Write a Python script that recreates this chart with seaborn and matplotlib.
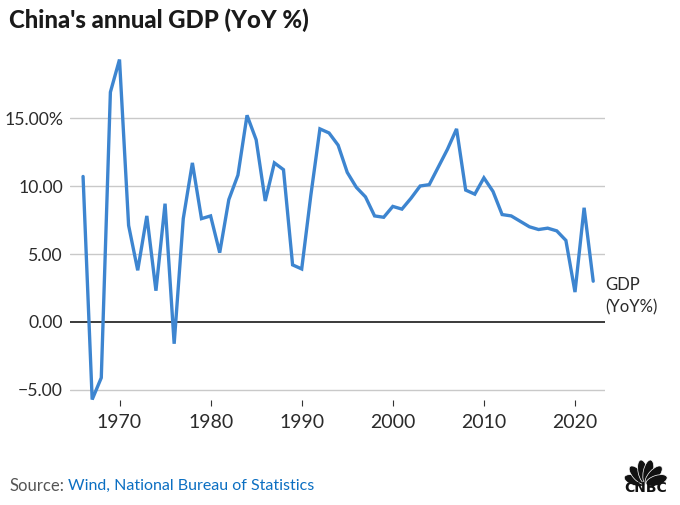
import numpy as np
import pandas as pd
import matplotlib
matplotlib.use("Agg")
import matplotlib.pyplot as plt
from matplotlib.patches import Ellipse
from matplotlib.transforms import Affine2D
import seaborn as sns

years = list(range(1966, 2023))
gdp = [10.7, -5.7, -4.1, 16.9, 19.3, 7.1, 3.8, 7.8, 2.3, 8.7, -1.6, 7.6, 11.7, 7.6, 7.8,
       5.1, 9.0, 10.8, 15.2, 13.4, 8.9, 11.7, 11.2, 4.2, 3.9, 9.3, 14.2, 13.9, 13.0, 11.0,
       9.9, 9.2, 7.8, 7.7, 8.5, 8.3, 9.1, 10.0, 10.1, 11.4, 12.7, 14.2, 9.7, 9.4, 10.6,
       9.6, 7.9, 7.8, 7.4, 7.0, 6.8, 6.9, 6.7, 6.0, 2.2, 8.4, 3.0]
y_ticks = [-5, 0, 5, 10, 15]
y_labels = ["\u22125.00", "0.00", "5.00", "10.00", "15.00%"]
x_ticks = [1970, 1980, 1990, 2000, 2010, 2020]
title = "China's annual GDP (YoY %)"
source_a = "Source:"
source_b = "Wind, National Bureau of Statistics"
series_label = "GDP\n(YoY%)"
logo_text = "CNBC"

sns.set_theme(style="white")
plt.rcParams["font.family"] = ["Lato", "DejaVu Sans"]

W, H = 680, 505
fig = plt.figure(figsize=(W / 100, H / 100), dpi=100, facecolor="white")
L, R, T, B = 70, 605, 40, 400
ax = fig.add_axes([L / W, 1 - B / H, (R - L) / W, (B - T) / H])

df = pd.DataFrame({"year": years, "gdp": gdp})
px_x = 9.11
px_y = 13.6
ax.set_xlim(1970 - (119.5 - L) / px_x, 1970 + (R - 119.5) / px_x)
ax.set_ylim(-(B - 322) / px_y, (322 - T) / px_y)

for t in y_ticks:
    if t == 0:
        ax.axhline(t, color="#222222", lw=1.25, zorder=3)
    else:
        ax.axhline(t, color="#c9c9c9", lw=1.0, zorder=1)

sns.lineplot(data=df, x="year", y="gdp", ax=ax, color="#3d85d0", lw=2.4, zorder=4,
             clip_on=False, errorbar=None)
ax.lines[-1].set_solid_joinstyle("miter")

for s in ax.spines.values():
    s.set_visible(False)
ax.set_xlabel("")
ax.set_ylabel("")
ax.set_xticks(x_ticks)
ax.set_yticks(y_ticks)
ax.set_yticklabels(y_labels)
ax.tick_params(axis="x", length=4.3, width=0.8, color="#333333", labelsize=14,
               labelcolor="#2b2b2b", pad=5.5, bottom=True)
ax.tick_params(axis="y", length=0, labelsize=12.7, labelcolor="#2b2b2b", pad=5)

fig.text(9 / W, 1 - 20.5 / H, title, fontsize=17.2, fontweight=900, color="#1a1a1a", va="center", ha="left")
fig.text(605 / W, 1 - 296.5 / H, series_label, fontsize=12, color="#2b2b2b", va="center", ha="left", linespacing=1.5)
fig.text(9 / W, 1 - 486 / H, source_a, fontsize=12, color="#555555", va="center", ha="left")
fig.text(68 / W, 1 - 486 / H, source_b, fontsize=11.5, color="#0b6fc2", va="center", ha="left")

# CNBC logo
to_px = Affine2D().scale(1, -1).translate(0, H)
cx, cy = 645.7, 484
for a, length in [(-72, 22), (-42, 23), (-12, 24), (12, 24), (42, 23), (72, 22)]:
    rad = np.radians(a)
    ex = cx + np.sin(rad) * length * 0.52
    ey = cy - np.cos(rad) * length * 0.52
    fig.add_artist(Ellipse((ex, ey), 10, length, angle=a, facecolor="#111111", edgecolor="white",
                           lw=0.5, transform=to_px))
fig.text(645.5 / W, 1 - 488.5 / H, logo_text, fontsize=10, fontweight="bold", color="#111111",
         ha="center", va="center", family=["DejaVu Sans"])

fig.savefig("out.png", dpi=100)
